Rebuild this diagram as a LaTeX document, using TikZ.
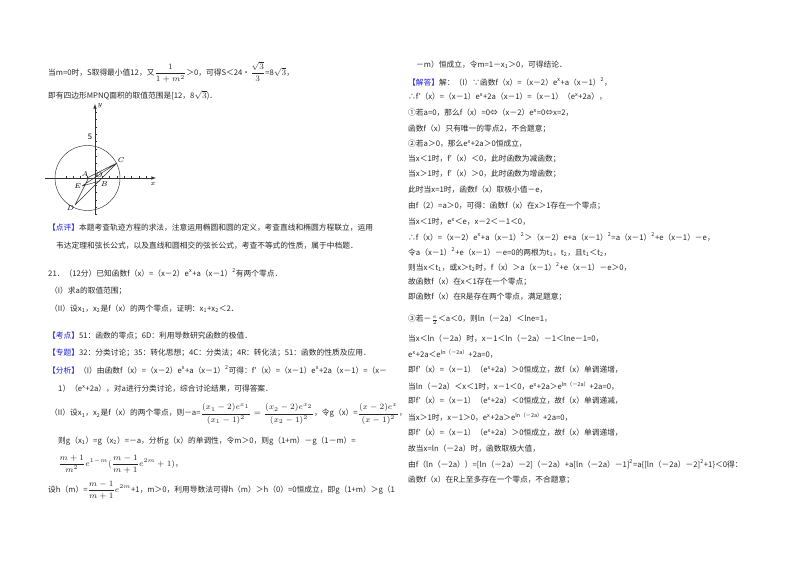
\documentclass[tikz,border=0pt]{standalone}
\usepackage{fontspec}
\setmainfont{Noto Sans CJK SC}
\usepackage{amsmath}
\definecolor{kb}{RGB}{30,30,210}
\newcommand{\kl}[1]{\textcolor{kb}{【#1】}}
\newcommand{\su}[1]{\textsuperscript{#1}}
\newcommand{\sub}[1]{\textsubscript{#1}}
\begin{document}
\begin{tikzpicture}[x=0.03cm,y=-0.03cm,
  t/.style={anchor=west,inner sep=0pt,font=\fontsize{6.6}{7}\selectfont,text=black!85},
  lbl/.style={font=\fontsize{6.5}{6}\selectfont,inner sep=0.5pt},
  ln/.style={line width=0.4pt,black!80}]
\useasboundingbox (0,0) rectangle (800,565);
% left column
\node[t] (l1) at (48,72) {当m=0时，S取得最小值12，又$\dfrac{1}{1+m^2}$＞0，可得S＜24•$\dfrac{\sqrt3}{3}$=8$\sqrt3$，};
\node[t] (l2) at (48,95) {即有四边形MPNQ面积的取值范围是[12，8$\sqrt3$)．};
% figure
\coordinate (O) at (95,178);
\draw[ln,-latex] (45,178) -- (156,178);
\draw[ln,-latex] (95,215) -- (95,104);
\foreach \i in {-4,...,7} \draw[ln] (95+\i*7.3,176.5) -- (95+\i*7.3,178);
\foreach \i in {-5,...,9} \draw[ln] (95,178-\i*7.3) -- (96.6,178-\i*7.3);
\draw[ln] (87.5,178) circle (32.5);
\node[lbl] (ly) at (100,106) {$y$};
\node[lbl] (lx) at (153,184) {$x$};
\node[lbl] (l5) at (90,137) {5};
\coordinate (A) at (89,177);
\coordinate (B) at (100,181);
\coordinate (C) at (117,163);
\coordinate (D) at (75,205);
\coordinate (E) at (82,186);
\draw[ln] (D) -- (C) (D) -- (A) (E) -- (C) (E) -- (B) (A) -- (C);
\node[lbl,anchor=south west] (lC) at (C) {$C$};
\node[lbl,anchor=south east] (lA) at (A) {$A$};
\node[lbl,anchor=north west] (lB) at (B) {$B$};
\node[lbl,anchor=east] (lE) at (E) {$E$};
\node[lbl,anchor=north east] (lD) at (D) {$D$};
\node[lbl,anchor=south west] (lO) at (O) {$O$};
\node[t] (l3) at (48,228) {\kl{点评}本题考查轨迹方程的求法，注意运用椭圆和圆的定义，考查直线和椭圆方程联立，运用};
\node[t] (l4) at (56,246) {韦达定理和弦长公式，以及直线和圆相交的弦长公式，考查不等式的性质，属于中档题．};
\node[t] (l5b) at (48,273) {21．（12分）已知函数f（x）=（x－2）e\su{x}+a（x－1）\su{2}有两个零点．};
\node[t] (l6) at (50,291) {（I）求a的取值范围；};
\node[t] (l7) at (50,309) {（II）设x\sub{1}，x\sub{2}是f（x）的两个零点，证明：x\sub{1}+x\sub{2}＜2．};
\node[t] (l8) at (48,336) {\kl{考点}51：函数的零点；6D：利用导数研究函数的极值．};
\node[t] (l9) at (48,353) {\kl{专题}32：分类讨论；35：转化思想；4C：分类法；4R：转化法；51：函数的性质及应用．};
\node[t] (l10) at (48,370) {\kl{分析}（I）由函数f（x）=（x－2）e\su{x}+a（x－1）\su{2}可得：f′（x）=（x－1）e\su{x}+2a（x－1）=（x－};
\node[t] (l11) at (58,389) {1）（e\su{x}+2a），对a进行分类讨论，综合讨论结果，可得答案．};
\node[t] (l12) at (50,414) {（II）设x\sub{1}，x\sub{2}是f（x）的两个零点，则－a=$\dfrac{(x_1-2)e^{x_1}}{(x_1-1)^2}=\dfrac{(x_2-2)e^{x_2}}{(x_2-1)^2}$，令g（x）=$\dfrac{(x-2)e^{x}}{(x-1)^2}$，};
\node[t] (l13) at (58,441) {则g（x\sub{1}）=g（x\sub{2}）=－a，分析g（x）的单调性，令m＞0，则g（1+m）－g（1－m）=};
\node[t] (l14) at (58,464) {$\dfrac{m+1}{m^2}e^{1-m}(\dfrac{m-1}{m+1}e^{2m}+1)$，};
\node[t] (l15) at (48,490) {设h（m）=$\dfrac{m-1}{m+1}e^{2m}$+1，m＞0，利用导数法可得h（m）＞h（0）=0恒成立，即g（1+m）＞g（1};
% right column
\node[t] (r1) at (416,65) {－m）恒成立，令m=1－x\sub{1}＞0，可得结论．};
\node[t] (r2) at (408,82) {\kl{解答}解：（I）∵函数f（x）=（x－2）e\su{x}+a（x－1）\su{2}，};
\node[t] (r3) at (408,97) {∴f′（x）=（x－1）e\su{x}+2a（x－1）=（x－1）（e\su{x}+2a），};
\node[t] (r4) at (408,113) {①若a=0，那么f（x）=0⇔（x－2）e\su{x}=0⇔x=2，};
\node[t] (r5) at (408,129) {函数f（x）只有唯一的零点2，不合题意；};
\node[t] (r6) at (408,144) {②若a＞0，那么e\su{x}+2a＞0恒成立，};
\node[t] (r7) at (408,159) {当x＜1时，f′（x）＜0，此时函数为减函数；};
\node[t] (r8) at (408,174) {当x＞1时，f′（x）＞0，此时函数为增函数；};
\node[t] (r9) at (408,190) {此时当x=1时，函数f（x）取极小值－e，};
\node[t] (r10) at (408,206) {由f（2）=a＞0，可得：函数f（x）在x＞1存在一个零点；};
\node[t] (r11) at (408,222) {当x＜1时，e\su{x}＜e，x－2＜－1＜0，};
\node[t] (r12) at (408,237) {∴f（x）=（x－2）e\su{x}+a（x－1）\su{2}＞（x－2）e+a（x－1）\su{2}=a（x－1）\su{2}+e（x－1）－e，};
\node[t] (r13) at (408,252) {令a（x－1）\su{2}+e（x－1）－e=0的两根为t\sub{1}，t\sub{2}，且t\sub{1}＜t\sub{2}，};
\node[t] (r14) at (408,267) {则当x＜t\sub{1}，或x＞t\sub{2}时，f（x）＞a（x－1）\su{2}+e（x－1）－e＞0，};
\node[t] (r15) at (408,282) {故函数f（x）在x＜1存在一个零点；};
\node[t] (r16) at (408,297) {即函数f（x）在R是存在两个零点，满足题意；};
\node[t] (r17) at (408,320) {③若－$\frac{e}{2}$＜a＜0，则ln（－2a）＜lne=1，};
\node[t] (r18) at (408,339) {当x＜ln（－2a）时，x－1＜ln（－2a）－1＜lne－1=0，};
\node[t] (r19) at (408,354) {e\su{x}+2a＜e\su{ln（－2a）}+2a=0，};
\node[t] (r20) at (408,370) {即f′（x）=（x－1）（e\su{x}+2a）＞0恒成立，故f（x）单调递增，};
\node[t] (r21) at (408,386) {当ln（－2a）＜x＜1时，x－1＜0，e\su{x}+2a＞e\su{ln（－2a）}+2a=0，};
\node[t] (r22) at (408,401) {即f′（x）=（x－1）（e\su{x}+2a）＜0恒成立，故f（x）单调递减，};
\node[t] (r23) at (408,417) {当x＞1时，x－1＞0，e\su{x}+2a＞e\su{ln（－2a）}+2a=0，};
\node[t] (r24) at (408,433) {即f′（x）=（x－1）（e\su{x}+2a）＞0恒成立，故f（x）单调递增，};
\node[t] (r25) at (408,449) {故当x=ln（－2a）时，函数取极大值，};
\node[t] (r26) at (408,464) {由f（ln（－2a））=[ln（－2a）－2]（－2a）+a[ln（－2a）－1]\su{2}=a\{[ln（－2a）－2]\su{2}+1\}＜0得：};
\node[t] (r27) at (408,480) {函数f（x）在R上至多存在一个零点，不合题意；};
\end{tikzpicture}
\end{document}
